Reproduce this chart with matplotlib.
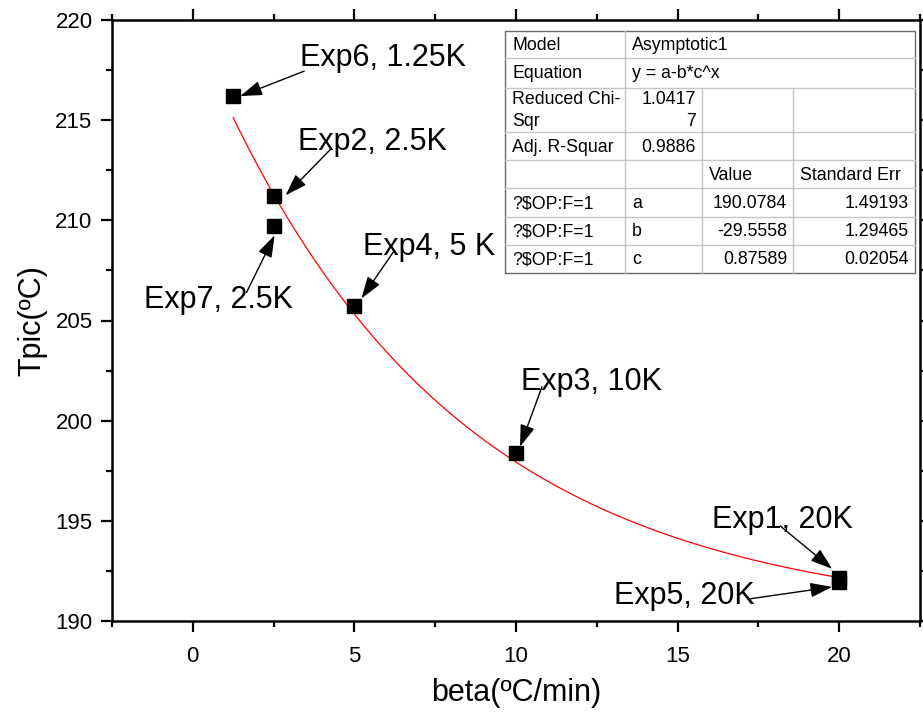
import matplotlib
matplotlib.use("Agg")
import matplotlib.pyplot as plt
import matplotlib.transforms as mtransforms
from matplotlib.patches import Rectangle
from matplotlib.lines import Line2D
import numpy as np

plt.rcParams['font.family'] = ['Liberation Sans', 'DejaVu Sans']

# ---- data ----
labels = ["Exp6, 1.25K", "Exp2, 2.5K", "Exp7, 2.5K", "Exp4, 5 K", "Exp3, 10K", "Exp1, 20K", "Exp5, 20K"]
beta = [1.25, 2.5, 2.5, 5, 10, 20, 20]
tpic = [216.2, 211.2, 209.7, 205.7, 198.4, 192.15, 191.95]

# fit parameters (Asymptotic1: y = a - b*c^x)
fit_a = 190.0784
fit_b = -29.5558
fit_c = 0.87589

table_rows = [
    ["Model", "Asymptotic1"],
    ["Equation", "y = a-b*c^x"],
    ["Reduced Chi-\nSqr", "1.0417\n7", "", ""],
    ["Adj. R-Squar", "0.9886", "", ""],
    ["", "", "Value", "Standard Err"],
    ["?$OP:F=1", "a", "190.0784", "1.49193"],
    ["?$OP:F=1", "b", "-29.5558", "1.29465"],
    ["?$OP:F=1", "c", "0.87589", "0.02054"],
]

# annotation layout offsets in pixels (text baseline-left, arrow tail, arrow tip)
text_off = [(67, 30), (24, 46), (-130, -82), (9, 51), (5, 63), (-127, 50), (-225, -22)]
tail_off = [(64, 25), (45, 46), (-28, -57), (33, 48), (22, 60), (-52, 43), (-83, -12)]
tip_off = [(7, 0), (12, 1), (1, -9), (7, 8), (4, 6), (-7, 9), (-7, -5)]

W, H = 923, 716
fig = plt.figure(figsize=(W / 100, H / 100), dpi=100)
ax = fig.add_axes([112 / W, 1 - 621 / H, (920 - 112) / W, (621 - 20) / H])

xfit = np.linspace(min(beta), max(beta), 300)
yfit = fit_a - fit_b * fit_c ** xfit
ax.plot(xfit, yfit, color='red', lw=0.9, zorder=2)
ax.plot(beta, tpic, 's', color='black', markersize=9.5, zorder=3)

ax.set_xlim(-2.5, 22.5)
ax.set_ylim(190, 220)
ax.set_xticks([0, 5, 10, 15, 20])
ax.set_xticks(np.arange(-2.5, 22.6, 2.5), minor=True)
ax.set_yticks([190, 195, 200, 205, 210, 215, 220])
ax.set_yticks(np.arange(190, 220.1, 2.5), minor=True)
ax.tick_params(which='both', direction='out', width=1.6, top=True, right=True,
               labelsize=16, pad=6)
ax.tick_params(which='major', length=8)
ax.tick_params(which='minor', length=4.5)
ax.tick_params(axis='x', pad=10)
for s in ax.spines.values():
    s.set_linewidth(1.8)

ax.set_xlabel("beta(ºC/min)", fontsize=22, labelpad=8)
ax.set_ylabel("Tpic(ºC)", fontsize=22, labelpad=6)

for i, lab in enumerate(labels):
    x, y = beta[i], tpic[i]
    ax.annotate(lab, xy=(x, y), xytext=text_off[i], textcoords='offset pixels',
                fontsize=22, ha='left', va='baseline', zorder=4)
    tip_tr = mtransforms.offset_copy(ax.transData, fig=fig, x=tip_off[i][0], y=tip_off[i][1], units='dots')
    ax.annotate('', xy=(x, y), xycoords=tip_tr, xytext=tail_off[i], textcoords='offset pixels',
                arrowprops=dict(arrowstyle='-|>,head_length=0.75,head_width=0.25', color='black',
                                lw=1.0, shrinkA=0, shrinkB=0, mutation_scale=18), zorder=4)

# ---- table (figure pixel layout) ----
def fx(px):
    return px / W

def fy(py):
    return 1 - py / H

col_x = [505, 625, 702, 793, 915]
row_y = [31, 58, 88, 132, 160, 188, 217, 245, 273]
tfs = 12.8
fig.patches.append(Rectangle((fx(col_x[0]), fy(row_y[-1])), fx(col_x[-1]) - fx(col_x[0]),
                             fy(row_y[0]) - fy(row_y[-1]), transform=fig.transFigure,
                             facecolor='white', edgecolor='#6a6a6a', lw=1.0, zorder=5))
inner = '#c4c4c4'
for r in row_y[1:-1]:
    fig.lines.append(Line2D([fx(col_x[0]), fx(col_x[-1])], [fy(r), fy(r)], transform=fig.transFigure,
                            color=inner, lw=1.0, zorder=6))
fig.lines.append(Line2D([fx(col_x[1])] * 2, [fy(row_y[0]), fy(row_y[-1])], transform=fig.transFigure,
                        color=inner, lw=1.0, zorder=6))
for c in col_x[2:4]:
    fig.lines.append(Line2D([fx(c)] * 2, [fy(row_y[2]), fy(row_y[-1])], transform=fig.transFigure,
                            color=inner, lw=1.0, zorder=6))

for ri, row in enumerate(table_rows):
    top, bot = row_y[ri], row_y[ri + 1]
    for ci, txt in enumerate(row):
        if not txt:
            continue
        left, right = col_x[ci], col_x[ci + 1]
        numeric = ci >= 1 and ri >= 2 and txt not in ("a", "b", "c", "Value", "Standard Err")
        lines = txt.split("\n")
        n = len(lines)
        for li, t in enumerate(lines):
            yc = top + (bot - top) * (li + 0.5) / n + 1
            if numeric:
                fig.text(fx(right - 6), fy(yc), t, ha='right', va='center', fontsize=tfs, zorder=7)
            else:
                fig.text(fx(left + 7), fy(yc), t, ha='left', va='center', fontsize=tfs, zorder=7)

fig.savefig("out.png", dpi=100)
